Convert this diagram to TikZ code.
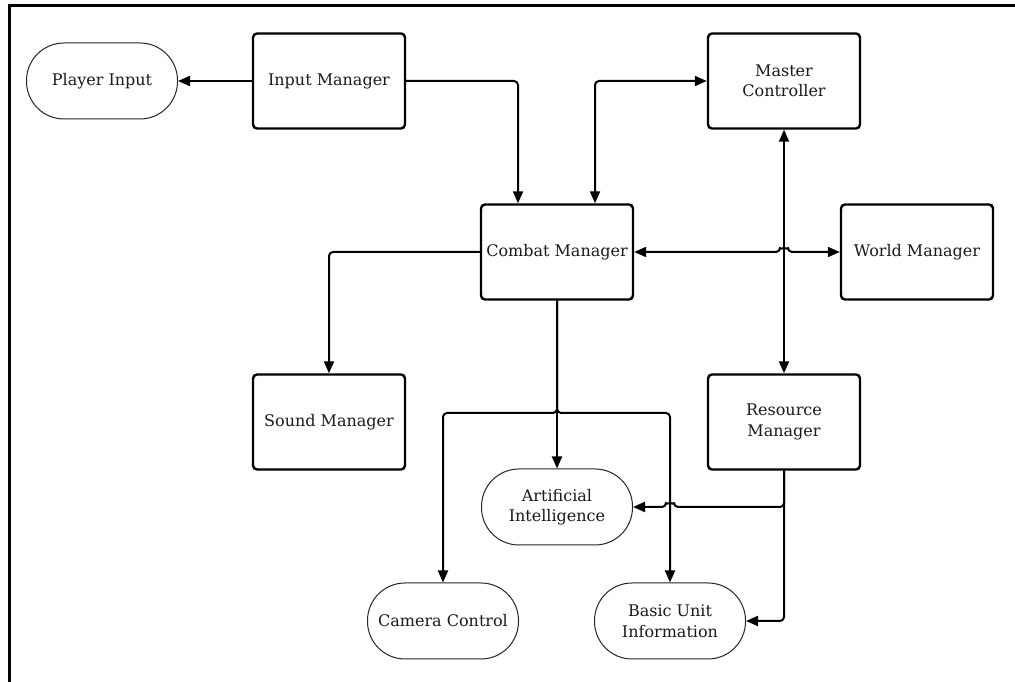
\documentclass[tikz,border=0pt]{standalone}
\usepackage{fontspec}
\setmainfont{DejaVu Serif}
\usetikzlibrary{arrows.meta}
\definecolor{txt}{HTML}{1A1A1A}
\begin{document}
\begin{tikzpicture}[x=1pt,y=1pt,
  every node/.style={font=\fontsize{16}{20.5}\selectfont, text=txt, align=center},
  boxnode/.style={draw=black, fill=white, line width=2.4pt, rounded corners=4pt,
    minimum width=152pt, minimum height=95pt, inner sep=0pt},
  pillnode/.style={draw=black!85, fill=white, line width=1pt, rounded corners=37.5pt,
    minimum width=151pt, minimum height=76pt, inner sep=0pt},
  conn/.style={line width=2pt, rounded corners=4pt, line join=round},
  tipa/.style={-{Triangle[length=12pt,width=10pt]}},
  tipb/.style={{Triangle[length=12pt,width=10pt]}-{Triangle[length=12pt,width=10pt]}}]
\useasboundingbox (0,0) rectangle (1015,682);
\draw[line width=3pt] (9.5,0) -- (9.5,676.5) -- (1015,676.5);

\node[pillnode] (PI) at (102,601) {Player Input};
\node[boxnode] (IM) at (329,601) {Input Manager};
\node[boxnode] (MC) at (784,601) {Master\\Controller};
\node[boxnode] (CM) at (557,430) {Combat Manager};
\node[boxnode] (WM) at (917,430) {World Manager};
\node[boxnode] (SM) at (329,260) {Sound Manager};
\node[boxnode] (RM) at (784,260) {Resource\\Manager};
\node[pillnode] (AI) at (557,175) {Artificial\\Intelligence};
\node[pillnode] (CC) at (443,61) {Camera Control};
\node[pillnode] (BU) at (670,61) {Basic Unit\\Information};

\coordinate (imcm) at (518,0);
\coordinate (mccm) at (595,0);
\coordinate (split) at (557,269);
\coordinate (hopW) at (780,430);
\coordinate (hopA) at (674,175);

\draw[conn,tipa] (IM.west) -- (PI.east);
\draw[conn,tipa] (IM.east) -| (imcm |- CM.north);
\draw[conn,tipb] (MC.west) -| (mccm |- CM.north);
\draw[conn,tipb] (MC.south) -- (RM.north);
\draw[conn,tipb] (CM.east) -- (hopW) arc (180:0:4) -- (WM.west);
\draw[conn,tipa] (CM.west) -| (SM.north);
\draw[conn,tipa] (CM.south) -- (AI.north);
\draw[conn,tipa] (CM.south) -- (split) -| (CC.north);
\draw[conn,tipa] (CM.south) -- (split) -| (BU.north);
\draw[conn,tipa] (RM.south) |- (hopA) arc (0:180:4) -- (AI.east);
\draw[conn,tipa] (RM.south) |- (BU.east);
\end{tikzpicture}
\end{document}
